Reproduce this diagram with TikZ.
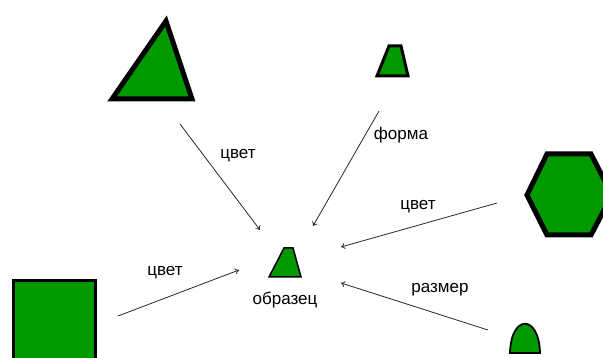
\documentclass[tikz,border=0pt]{standalone}
\usepackage{fontspec}
\setmainfont{Liberation Sans}
\usetikzlibrary{arrows.meta}
\definecolor{leaf}{RGB}{0,153,0}
\definecolor{ink}{RGB}{40,40,40}
\begin{document}
\begin{tikzpicture}[x=1pt,y=-1pt,
  shapefill/.style={fill=leaf,draw=black,line join=miter},
  link/.style={draw=ink,line width=0.8pt,-{To[length=4pt,width=6pt]}},
  lbl/.style={font=\fontsize{17}{20}\selectfont,inner sep=0pt,text=black}]
\useasboundingbox (0,0) rectangle (603,358);
\clip (0,0) rectangle (603,358);

% figures
\draw[shapefill,line width=5pt] (112,99) -- (192,99) -- (166,21) -- cycle;
\draw[shapefill,line width=3pt] (389,46) -- (401,46) -- (408,76) -- (377,76) -- cycle;
\draw[shapefill,line width=5pt] (527,195) -- (547,154) -- (591,154) -- (612,195) -- (591,235) -- (547,235) -- cycle;
\draw[shapefill,line width=1.5pt] (284,248) -- (293,248) -- (301,277) -- (269,277) -- cycle;
\draw[shapefill,line width=3pt] (13,281) rectangle (95,365);
\draw[shapefill,line width=1.8pt] (510,353) .. controls (511,314) and (539,314) .. (540,353) -- cycle;

% nodes used as connector ends
\coordinate (tri) at (180,124);
\coordinate (trap) at (379,111);
\coordinate (hex) at (497,203);
\coordinate (sq) at (118,316);
\coordinate (dome) at (488,330);
\coordinate (s1) at (260,230);
\coordinate (s2) at (313,226);
\coordinate (s3) at (341,247);
\coordinate (s4) at (239,270);
\coordinate (s5) at (341,283);
\node[lbl] (sample) at (285,300) {образец};

% connectors
\draw[link] (tri) -- (s1);
\draw[link] (trap) -- (s2);
\draw[link] (hex) -- (s3);
\draw[link] (sq) -- (s4);
\draw[link] (dome) -- (s5);

% labels
\node[lbl] (l1) at (238,156) {цвет};
\node[lbl] (l2) at (401,135) {форма};
\node[lbl] (l3) at (418,207) {цвет};
\node[lbl] (l4) at (165,273) {цвет};
\node[lbl] (l5) at (440,290) {размер};
\end{tikzpicture}
\end{document}
